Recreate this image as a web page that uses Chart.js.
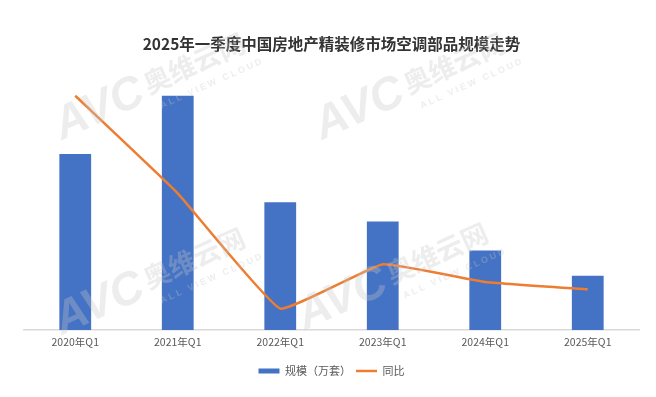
<!DOCTYPE html>
<html>
<head>
<meta charset="utf-8">
<script src="https://cdn.jsdelivr.net/npm/chart.js@4/dist/chart.umd.min.js"></script>
<style>
  html, body { margin: 0; padding: 0; background: #fff; }
  #wrap { width: 656px; height: 397px; position: relative; }
</style>
</head>
<body>
<div id="wrap"><canvas id="c" width="656" height="397"></canvas></div>
<script>
const categories = ['2020年Q1', '2021年Q1', '2022年Q1', '2023年Q1', '2024年Q1', '2025年Q1'];
const scaleValues = [35.0, 46.6, 25.4, 21.6, 15.8, 10.8];   // 规模（万套）
const yoyValues = [99, 33, -45, -15, -27, -32];              // 同比 (%)
const seriesNames = ['规模（万套）', '同比'];
const titleText = '2025年一季度中国房地产精装修市场空调部品规模走势';

const FONT = '"Noto Sans CJK SC", "Noto Sans", sans-serif';

const watermark = {
  id: 'watermark',
  afterDatasetsDraw(chart) {
    const ctx = chart.ctx;
    const marks = [[62, 140], [322, 140], [62, 335], [305, 330]];
    ctx.save();
    marks.forEach(([x, y]) => {
      ctx.save();
      ctx.translate(x, y);
      ctx.rotate(-0.42);
      ctx.fillStyle = 'rgba(200,200,200,0.32)';
      ctx.font = 'italic bold 46px "Liberation Sans", sans-serif';
      ctx.textBaseline = 'alphabetic';
      ctx.fillText('AVC', 0, 0);
      ctx.font = 'bold 27px ' + FONT;
      ctx.fillText('奥维云网', 98, -6);
      ctx.font = 'bold 9px "Liberation Sans", sans-serif';
      ctx.fillText('A L L   V I E W   C L O U D', 104, 12);
      ctx.restore();
    });
    ctx.restore();
  }
};

new Chart(document.getElementById('c'), {
  data: {
    labels: categories,
    datasets: [
      {
        type: 'line',
        label: seriesNames[1],
        data: yoyValues,
        yAxisID: 'y1',
        borderColor: '#ED7D31',
        backgroundColor: '#ED7D31',
        borderWidth: 2.5,
        pointRadius: 0,
        tension: 0.1,
        order: 0
      },
      {
        type: 'bar',
        label: seriesNames[0],
        data: scaleValues,
        yAxisID: 'y',
        backgroundColor: '#4472C4',
        borderWidth: 0,
        categoryPercentage: 1,
        barPercentage: 0.31,
        order: 1
      }
    ]
  },
  options: {
    responsive: false,
    animation: false,
    layout: { padding: { left: 24, right: 17, top: 0, bottom: 10.5 } },
    plugins: {
      title: {
        display: true,
        text: titleText,
        color: '#333333',
        font: { family: FONT, size: 15.5, weight: 'bold' },
        padding: { top: 35, bottom: 16 }
      },
      legend: {
        position: 'bottom',
        labels: {
          color: '#595959',
          font: { family: FONT, size: 11 },
          usePointStyle: true,
          pointStyleWidth: 21,
          boxHeight: 5,
          padding: 5,
          generateLabels(chart) {
            const order = [1, 0];
            return order.map(i => {
              const ds = chart.data.datasets[i];
              return {
                text: ds.label,
                fillStyle: ds.type === 'bar' ? ds.backgroundColor : ds.borderColor,
                strokeStyle: ds.type === 'bar' ? ds.backgroundColor : ds.borderColor,
                lineWidth: ds.type === 'bar' ? 0 : 2.5,
                pointStyle: ds.type === 'bar' ? 'rect' : 'line',
                fontColor: '#595959',
                hidden: false,
                datasetIndex: i
              };
            });
          }
        }
      },
      tooltip: { enabled: false }
    },
    scales: {
      x: {
        grid: { display: false, drawTicks: false },
        border: { display: true, color: '#d9d9d9', width: 1.5 },
        ticks: { color: '#595959', font: { family: FONT, size: 10.5 }, padding: 6 },
        afterFit(scale) { scale.height += 5.9; }
      },
      y: {
        display: false,
        min: 0,
        max: 51.8
      },
      y1: {
        display: false,
        position: 'right',
        min: -59.5,
        max: 116.7
      }
    }
  },
  plugins: [watermark]
});
</script>
</body>
</html>
